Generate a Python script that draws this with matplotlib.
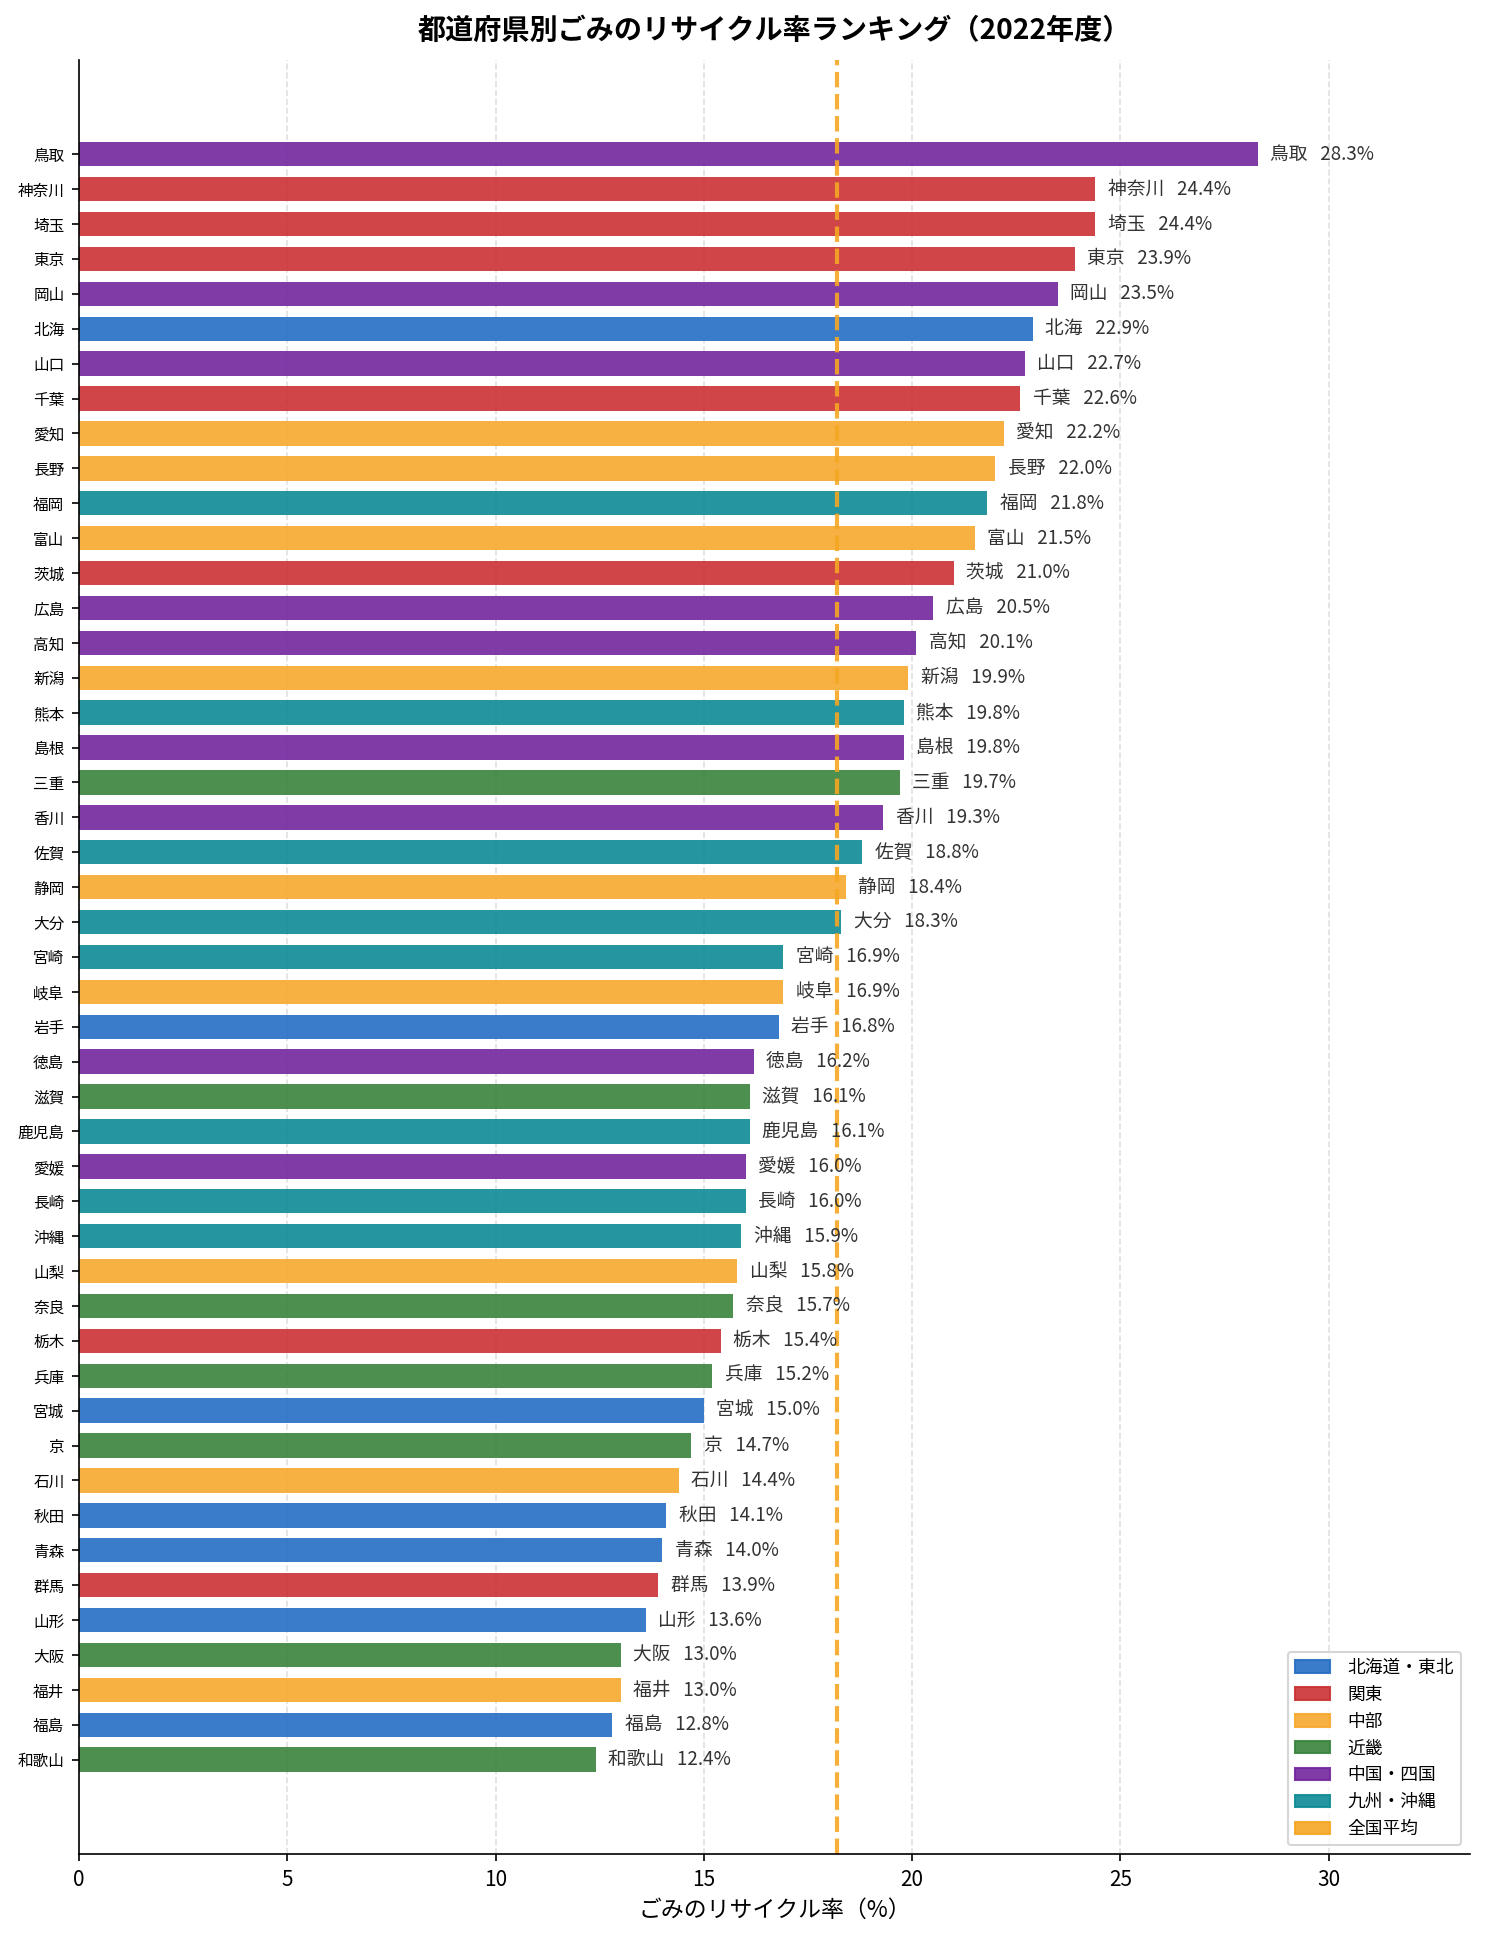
import numpy as np
import matplotlib
matplotlib.use('Agg')
import matplotlib.pyplot as plt
from matplotlib.patches import Patch

plt.rcParams['font.family'] = ['Noto Sans CJK JP', 'DejaVu Sans']

prefectures = ['鳥取', '神奈川', '埼玉', '東京', '岡山', '北海', '山口', '千葉', '愛知', '長野',
               '福岡', '富山', '茨城', '広島', '高知', '新潟', '熊本', '島根', '三重', '香川',
               '佐賀', '静岡', '大分', '宮崎', '岐阜', '岩手', '徳島', '滋賀', '鹿児島', '愛媛',
               '長崎', '沖縄', '山梨', '奈良', '栃木', '兵庫', '宮城', '京', '石川', '秋田',
               '青森', '群馬', '山形', '大阪', '福井', '福島', '和歌山']
rates = [28.3, 24.4, 24.4, 23.9, 23.5, 22.9, 22.7, 22.6, 22.2, 22.0,
         21.8, 21.5, 21.0, 20.5, 20.1, 19.9, 19.8, 19.8, 19.7, 19.3,
         18.8, 18.4, 18.3, 16.9, 16.9, 16.8, 16.2, 16.1, 16.1, 16.0,
         16.0, 15.9, 15.8, 15.7, 15.4, 15.2, 15.0, 14.7, 14.4, 14.1,
         14.0, 13.9, 13.6, 13.0, 13.0, 12.8, 12.4]
regions = ['中国・四国', '関東', '関東', '関東', '中国・四国', '北海道・東北', '中国・四国', '関東', '中部', '中部',
           '九州・沖縄', '中部', '関東', '中国・四国', '中国・四国', '中部', '九州・沖縄', '中国・四国', '近畿', '中国・四国',
           '九州・沖縄', '中部', '九州・沖縄', '九州・沖縄', '中部', '北海道・東北', '中国・四国', '近畿', '九州・沖縄', '中国・四国',
           '九州・沖縄', '九州・沖縄', '中部', '近畿', '関東', '近畿', '北海道・東北', '近畿', '中部', '北海道・東北',
           '北海道・東北', '関東', '北海道・東北', '近畿', '中部', '北海道・東北', '近畿']

region_order = ['北海道・東北', '関東', '中部', '近畿', '中国・四国', '九州・沖縄']
region_colors = {
    '北海道・東北': '#246EC3',
    '関東': '#CA3134',
    '中部': '#F7A92D',
    '近畿': '#3A833C',
    '中国・四国': '#72269E',
    '九州・沖縄': '#0D8A95',
}
avg_color = '#F5A623'

# national average = mean over prefectures
national_avg = np.mean(rates)

fig, ax = plt.subplots(figsize=(9.9, 12.9), dpi=150)
fig.subplots_adjust(left=0.0532, right=0.99, top=0.969, bottom=0.0419)

y = np.arange(len(prefectures))
colors = [region_colors[r] for r in regions]
ax.barh(y, rates, height=0.7, color=colors, alpha=0.9)

for i, (name, v) in enumerate(zip(prefectures, rates)):
    ax.text(v + 0.3, i, f"{name}   {v:.1f}%", va='center', ha='left', fontsize=9, color='#333333')

ax.axvline(national_avg, color=avg_color, linestyle='--', linewidth=2, alpha=0.9)

ax.set_yticks(y)
ax.set_yticklabels(prefectures, fontsize=7.5)
ax.set_ylim(len(prefectures) - 1 + 2.7, -2.7)
ax.set_xlim(0, max(rates) * 1.18)
ax.set_xticks(np.arange(0, 31, 5))
ax.tick_params(axis='x', labelsize=10)

ax.xaxis.grid(True, linestyle='--', color='#cccccc', alpha=0.6)
ax.set_axisbelow(True)
ax.spines['top'].set_visible(False)
ax.spines['right'].set_visible(False)

ax.set_xlabel("ごみのリサイクル率（%）", fontsize=11)
ax.set_title("都道府県別ごみのリサイクル率ランキング（2022年度）", fontsize=13.5, fontweight='bold', pad=10)

handles = [Patch(facecolor=region_colors[r], edgecolor=region_colors[r], alpha=0.9, label=r) for r in region_order]
handles.append(Patch(facecolor=avg_color, edgecolor=avg_color, alpha=0.9, label='全国平均'))
ax.legend(handles=handles, loc='lower right', fontsize=8.5, handletextpad=1.0)

plt.savefig("out.png", dpi=150)
plt.close('all')
